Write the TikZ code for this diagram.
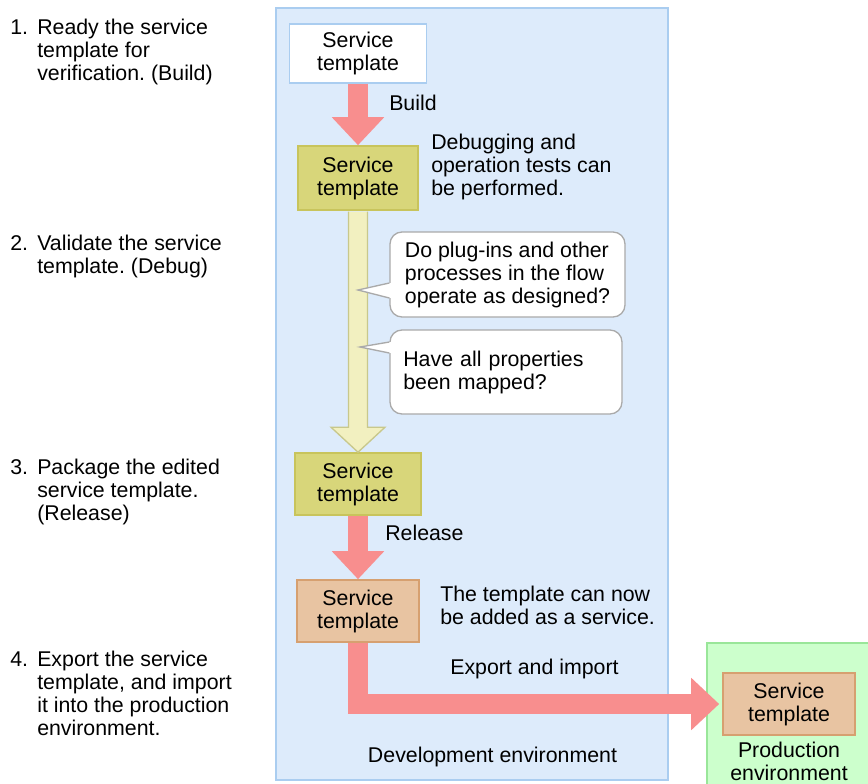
\documentclass[tikz,border=0pt]{standalone}
\usepackage{fontspec}
\setmainfont{Liberation Sans}
\usetikzlibrary{arrows.meta,positioning,calc}
\frenchspacing
\definecolor{devfill}{RGB}{221,235,251}
\definecolor{devline}{RGB}{170,205,240}
\definecolor{prodfill}{RGB}{204,255,204}
\definecolor{prodline}{RGB}{153,230,153}
\definecolor{redarrow}{RGB}{248,142,142}
\definecolor{olivefill}{RGB}{216,214,122}
\definecolor{oliveline}{RGB}{200,196,92}
\definecolor{tanfill}{RGB}{232,196,162}
\definecolor{tanline}{RGB}{214,160,112}
\definecolor{palefill}{RGB}{242,240,192}
\definecolor{paleline}{RGB}{200,200,140}
\definecolor{bubbleline}{RGB}{170,170,170}
\tikzset{
    tmpl/.style={rectangle, line width=1.2pt, inner sep=0pt, align=center},
    tmplwhite/.style={tmpl, draw=devline, fill=white},
    tmplolive/.style={tmpl, draw=oliveline, fill=olivefill},
    tmpltan/.style={tmpl, draw=tanline, fill=tanfill},
    bubble/.style={rectangle, rounded corners=9pt, draw=bubbleline, fill=white, line width=1pt,
        align=left},
    bigarrow/.style={draw=redarrow, line width=15pt, -{Triangle[width=38pt,length=21pt]}},
    palearrow/.style={draw=paleline, fill=palefill, line width=1pt, line join=miter},
    envbox/.style={line width=1pt}
}

\begin{document}
\begin{tikzpicture}[x=0.75pt, y=-0.75pt, font=\fontsize{16}{17.25}\selectfont]
    \useasboundingbox (0,0) rectangle (868,783);

    % environments
    \draw[envbox, draw=devline, fill=devfill] (276,8) rectangle (668,780);
    \draw[envbox, draw=prodline, fill=prodfill] (707,643) rectangle (880,800);
    \node (devlabel) at (492.5,757) {Development environment};
    \node[align=center] (prodlabel) at (789,761) {Production\\environment};

    % steps on the left
    \node[anchor=west, inner sep=0pt] (step1) at (10,53)
      {\begin{tabular}{@{}p{20.25pt}@{}l@{}}1.&Ready the service\\&template for\\&verification. (Build)\end{tabular}};
    \node[anchor=west, inner sep=0pt] (step2) at (10,257.5)
      {\begin{tabular}{@{}p{20.25pt}@{}l@{}}2.&Validate the service\\&template. (Debug)\end{tabular}};
    \node[anchor=west, inner sep=0pt] (step3) at (10,493)
      {\begin{tabular}{@{}p{20.25pt}@{}l@{}}3.&Package the edited\\&service template.\\&(Release)\end{tabular}};
    \node[anchor=west, inner sep=0pt] (step4) at (10,696.5)
      {\begin{tabular}{@{}p{20.25pt}@{}l@{}}4.&Export the service\\&template, and import\\&it into the production\\&environment.\end{tabular}};

    % service templates
    \node[tmplwhite, minimum width=102.75pt, minimum height=44.25pt] (source) at (358,53.5) {Service\\template};
    \node[tmplolive, minimum width=90pt, minimum height=48pt] (built) at (358,178) {Service\\template};
    \node[tmplolive, minimum width=94.5pt, minimum height=46.5pt] (debugged) at (358,484) {Service\\template};
    \node[tmpltan, minimum width=91.5pt, minimum height=46.5pt] (released) at (358,611) {Service\\template};
    \node[tmpltan, minimum width=99pt, minimum height=46.5pt] (deployed) at (789,704) {Service\\template};

    % arrows
    \draw[bigarrow] (source) -- (built);
    \draw[palearrow] ($(built.south)+(-9.5,0.8)$) -- ($(debugged.north)+(-9.5,-25)$)
      -- ($(debugged.north)+(-27,-25)$) -- (debugged.north) -- ($(debugged.north)+(27,-25)$)
      -- ($(debugged.north)+(9.5,-25)$) -- ($(built.south)+(9.5,0.8)$);
    \draw[bigarrow] (debugged) -- (released);
    \draw[bigarrow, shorten >=2.25pt] (released) |- (deployed);

    % labels
    \node[anchor=west, inner sep=0pt] (buildlabel) at (389,103) {Build};
    \node[anchor=west, inner sep=0pt] (releaselabel) at (385,533) {Release};
    \node[anchor=west, inner sep=0pt] (exportlabel) at (450,669) {Export and import};
    \node[anchor=west, inner sep=0pt, align=left] (debugnote) at (431,167)
      {Debugging and\\operation tests can\\be performed.};
    \node[anchor=west, inner sep=0pt, align=left] (releasenote) at (440,605.5)
      {The template can now\\be added as a service.};

    % questions
    \node[bubble, minimum width=176.25pt, minimum height=63.75pt] (question1) at (507.5,274.5)
      {Do plug-ins and other\\processes in the flow\\operate as designed?};
    \node[bubble, text width=154pt, inner xsep=10pt, minimum height=63pt] (question2) at (506,372)
      {Have all properties\\been mapped?};
    \coordinate (tip1) at (358,290);
    \coordinate (tip2) at (360,347);
    \fill[white] ($(question1.west)+(1.5,8.5)$) -- (tip1) -- ($(question1.west)+(1.5,23.5)$) -- cycle;
    \draw[bubbleline, line width=1pt] ($(question1.west)+(0,8.5)$) -- (tip1) -- ($(question1.west)+(0,23.5)$);
    \fill[white] ($(question2.west)+(1.5,-30)$) -- (tip2) -- ($(question2.west)+(1.5,-19)$) -- cycle;
    \draw[bubbleline, line width=1pt] ($(question2.west)+(0,-30)$) -- (tip2) -- ($(question2.west)+(0,-19)$);
\end{tikzpicture}
\end{document}
